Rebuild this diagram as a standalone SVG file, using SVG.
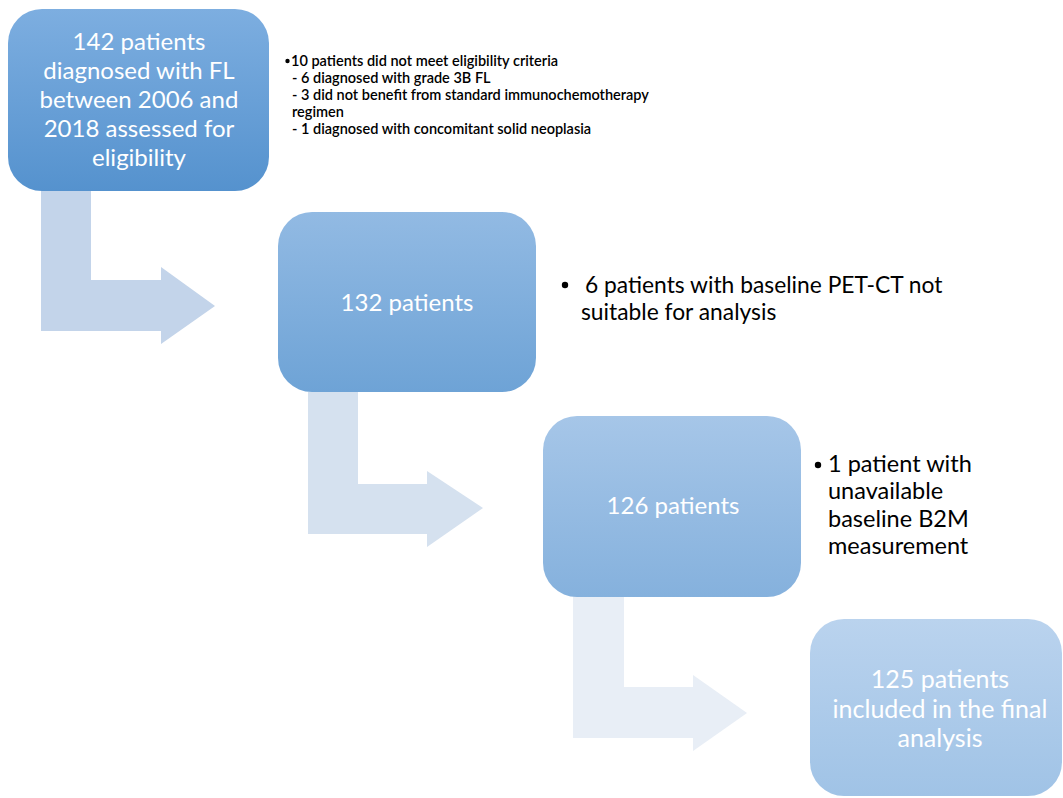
<svg xmlns="http://www.w3.org/2000/svg" width="1063" height="798" viewBox="0 0 1063 798">
<defs>
<linearGradient id="g1" x1="0" y1="0" x2="0" y2="1"><stop offset="0" stop-color="#7DAEE0"/><stop offset="1" stop-color="#5592CE"/></linearGradient>
<linearGradient id="g2" x1="0" y1="0" x2="0" y2="1"><stop offset="0" stop-color="#92BAE3"/><stop offset="1" stop-color="#6EA3D6"/></linearGradient>
<linearGradient id="g3" x1="0" y1="0" x2="0" y2="1"><stop offset="0" stop-color="#A6C6E8"/><stop offset="1" stop-color="#85B1DD"/></linearGradient>
<linearGradient id="g4" x1="0" y1="0" x2="0" y2="1"><stop offset="0" stop-color="#BAD3EE"/><stop offset="1" stop-color="#A0C3E6"/></linearGradient>
<style>
.box{font-family:Lato,"Liberation Sans",sans-serif;fill:#FFFFFF;text-anchor:middle}
.note{font-family:Lato,"Liberation Sans",sans-serif;fill:#000000}
.small{font-size:14.5px;font-weight:600}
</style>
</defs>
<rect width="1063" height="798" fill="#FFFFFF"/>
<g id="connectors">
<path d="M41,190 H91 V280 H161 V267 L215,306 L161,344 V331 H41 Z" fill="#C3D4EA"/>
<path d="M308,392 H358 V484 H427 V471 L483,508 L427,547 V534 H308 Z" fill="#D5E1EF"/>
<path d="M573,596 H624 V687 H693 V675 L747,713 L693,751 V738 H573 Z" fill="#E8EEF6"/>
</g>
<g id="node1">
<rect x="8" y="9" width="261" height="182" rx="34" fill="url(#g1)"/>
<text class="box" font-size="24" x="139" y="50">142 patients</text>
<text class="box" font-size="24" x="139" y="79">diagnosed with FL</text>
<text class="box" font-size="24" x="139" y="108">between 2006 and</text>
<text class="box" font-size="24" x="139" y="137">2018 assessed for</text>
<text class="box" font-size="24" x="139" y="166">eligibility</text>
</g>
<g id="note1">
<circle cx="287.5" cy="61" r="2.2" fill="#000"/>
<text class="note small" x="291" y="66">10 patients did not meet eligibility criteria</text>
<text class="note small" x="292" y="83">- 6 diagnosed with grade 3B FL</text>
<text class="note small" x="292" y="100">- 3 did not benefit from standard immunochemotherapy</text>
<text class="note small" x="292" y="117">regimen</text>
<text class="note small" x="292" y="134">- 1 diagnosed with concomitant solid neoplasia</text>
</g>
<g id="node2">
<rect x="278" y="212" width="258" height="180" rx="34" fill="url(#g2)"/>
<text class="box" font-size="24" x="407" y="311">132 patients</text>
</g>
<g id="note2">
<circle cx="565" cy="285" r="3.2" fill="#000"/>
<text class="note" font-size="22.8" x="585" y="293">6 patients with baseline PET-CT not</text>
<text class="note" font-size="22.8" x="581" y="320">suitable for analysis</text>
</g>
<g id="node3">
<rect x="543" y="416" width="258" height="181" rx="34" fill="url(#g3)"/>
<text class="box" font-size="24" x="673" y="514">126 patients</text>
</g>
<g id="note3">
<circle cx="818" cy="465" r="3.2" fill="#000"/>
<text class="note" font-size="23.5" x="828" y="472">1 patient with</text>
<text class="note" font-size="23.5" x="828" y="499">unavailable</text>
<text class="note" font-size="23.5" x="828" y="527">baseline B2M</text>
<text class="note" font-size="23.5" x="828" y="554">measurement</text>
</g>
<g id="node4">
<rect x="810" y="619" width="252" height="177" rx="34" fill="url(#g4)"/>
<text class="box" font-size="25" x="940" y="688">125 patients</text>
<text class="box" font-size="25" x="940" y="718">included in the final</text>
<text class="box" font-size="25" x="940" y="747">analysis</text>
</g>
</svg>
